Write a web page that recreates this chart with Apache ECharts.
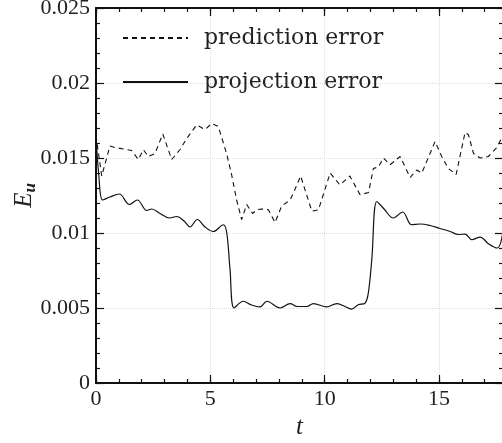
<!DOCTYPE html>
<html>
<head>
<meta charset="utf-8">
<script src="https://cdn.jsdelivr.net/npm/echarts@6/dist/echarts.min.js"></script>
<style>
html,body{margin:0;padding:0;background:#fff;}
#chart{width:502px;height:443px;}
</style>
</head>
<body>
<div id="chart"></div>
<script>
// ---- data ----
var seriesNames = ['prediction error', 'projection error'];
var xTicks = [0, 5, 10, 15];
var yTicks = [0, 0.005, 0.01, 0.015, 0.02, 0.025];

var predT = [0, 0.25, 0.61, 0.83, 1.2, 1.56, 1.85, 2.07, 2.29, 2.58, 2.92, 3.31, 3.67, 3.97, 4.4, 4.77, 5.06, 5.35, 5.71, 5.93, 6.15, 6.37, 6.59, 6.85, 7.03, 7.25, 7.54, 7.83, 8.12, 8.49, 8.7, 8.95, 9.44, 9.73, 10.24, 10.67, 11.1, 11.55, 11.92, 12.13, 12.35, 12.57, 12.86, 13.3, 13.74, 14.03, 14.25, 14.83, 15.12, 15.41, 15.75, 16.14, 16.29, 16.51, 16.8, 17.16, 17.53, 17.8];
var predV = [0.0165, 0.0138, 0.0158, 0.0157, 0.0156, 0.0155, 0.0149, 0.01555, 0.0151, 0.0153, 0.0166, 0.0149, 0.01555, 0.0163, 0.0172, 0.0169, 0.0173, 0.0171, 0.0153, 0.0139, 0.0122, 0.0109, 0.0119, 0.0113, 0.01155, 0.0116, 0.01155, 0.0107, 0.0118, 0.0122, 0.0129, 0.0138, 0.01145, 0.01155, 0.0140, 0.0132, 0.0138, 0.01255, 0.0127, 0.0143, 0.0144, 0.0150, 0.01455, 0.0151, 0.0137, 0.0142, 0.0140, 0.0161, 0.0151, 0.0143, 0.0139, 0.0167, 0.01655, 0.0153, 0.0150, 0.0151, 0.0157, 0.0165];

var projT = [0, 0.12, 0.29, 0.61, 1.02, 1.46, 1.81, 2.22, 2.44, 2.8, 3.21, 3.53, 3.85, 4.11, 4.43, 4.77, 5.13, 5.57, 5.72, 5.86, 6.04, 6.44, 6.8, 7.17, 7.47, 8.05, 8.49, 8.8, 9.22, 9.51, 10.09, 10.53, 10.82, 11.18, 11.47, 11.77, 11.91, 12.06, 12.28, 12.6, 13.0, 13.41, 13.8, 14.17, 14.61, 15.05, 15.49, 15.85, 16.14, 16.44, 16.8, 17.16, 17.55, 17.8];
var projV = [0.0165, 0.0139, 0.0122, 0.0124, 0.0126, 0.0119, 0.0122, 0.0115, 0.0116, 0.0113, 0.0110, 0.0111, 0.0108, 0.0104, 0.0109, 0.0104, 0.0101, 0.01055, 0.0100, 0.0076, 0.0050, 0.00545, 0.0052, 0.00507, 0.00545, 0.0050, 0.00529, 0.0051, 0.0051, 0.00529, 0.00507, 0.00529, 0.00515, 0.00493, 0.00522, 0.00533, 0.0060, 0.0082, 0.0121, 0.0116, 0.0110, 0.0114, 0.01055, 0.0106, 0.0105, 0.0103, 0.0101, 0.0099, 0.00993, 0.00955, 0.00973, 0.00929, 0.0090, 0.0101];

function zip(a, b) { return a.map(function (v, i) { return [v, b[i]]; }); }

var X_MAX = 17.8;
var serif = 'Liberation Serif';
var black = '#111';
var gridLine = { show: true, lineStyle: { color: '#dcdcdc', type: 'dotted', width: 1 } };

function xAxisDef(pos, major, withLabels) {
  return {
    type: 'value', position: pos, min: 0, max: X_MAX,
    interval: major ? 5 : 1,
    axisLine: { show: major, onZero: false, lineStyle: { color: black, width: 2 } },
    axisTick: { show: true, inside: true, length: major ? 8 : 4, lineStyle: { color: black, width: 1.2 } },
    axisLabel: {
      show: withLabels, margin: 5, showMaxLabel: false,
      fontFamily: serif, fontSize: 22, color: '#222',
      formatter: function (v) { return xTicks.indexOf(v) >= 0 ? String(v) : ''; }
    },
    splitLine: (major && withLabels) ? gridLine : { show: false },
    name: withLabels ? 't' : '',
    nameLocation: 'middle', nameGap: 28,
    nameTextStyle: { fontFamily: serif, fontStyle: 'italic', fontSize: 25, color: '#222' }
  };
}

function yAxisDef(pos, withLabels) {
  return {
    type: 'value', position: pos, min: 0, max: 0.025, interval: 0.005,
    axisLine: { show: true, onZero: false, lineStyle: { color: black, width: 2 } },
    axisTick: { show: true, inside: true, length: 8, lineStyle: { color: black, width: 1.2 } },
    minorTick: { show: true, splitNumber: 5, length: 4, lineStyle: { color: black, width: 1.2 } },
    axisLabel: {
      show: withLabels, margin: 6, fontFamily: serif, fontSize: 22, color: '#222',
      formatter: function (v) {
        for (var i = 0; i < yTicks.length; i++) {
          if (Math.abs(yTicks[i] - v) < 1e-9) return String(yTicks[i]);
        }
        return '';
      }
    },
    splitLine: withLabels ? gridLine : { show: false },
    name: withLabels ? '{e|E}{u|u}' : '',
    nameLocation: 'middle', nameGap: 57, nameRotate: 90, nameMoveOverlap: false,
    nameTextStyle: {
      color: '#222',
      rich: {
        e: { fontFamily: serif, fontStyle: 'italic', fontSize: 25, color: '#222', lineHeight: 30 },
        u: { fontFamily: serif, fontStyle: 'italic', fontWeight: 'bold', fontSize: 17, color: '#222', verticalAlign: 'bottom', lineHeight: 30 }
      }
    }
  };
}

var chart = echarts.init(document.getElementById('chart'), null, { renderer: 'canvas' });
chart.setOption({
  animation: false,
  backgroundColor: '#fff',
  grid: { left: 96, right: -1, top: 8, bottom: 60, containLabel: false, outerBoundsMode: 'none' },
  legend: {
    orient: 'vertical', left: 122, top: 27, padding: 0,
    itemWidth: 65, itemHeight: 22, itemGap: 22,
    selectedMode: false,
    itemStyle: { opacity: 0, color: 'rgba(0,0,0,0)', borderWidth: 0 },
    textStyle: { fontFamily: 'DejaVu Serif', fontSize: 22, color: '#222', lineHeight: 22, padding: [0, 0, 0, 11] },
    data: seriesNames
  },
  xAxis: [
    xAxisDef('bottom', true, true),
    xAxisDef('bottom', false, false),
    xAxisDef('top', true, false),
    xAxisDef('top', false, false)
  ],
  yAxis: [yAxisDef('left', true), yAxisDef('right', false)],
  series: [
    {
      name: seriesNames[0], type: 'line', xAxisIndex: 0, yAxisIndex: 0,
      symbol: 'none', smooth: false,
      lineStyle: { color: black, width: 1.1, type: [5, 4] },
      itemStyle: { color: black },
      data: zip(predT, predV)
    },
    {
      name: seriesNames[1], type: 'line', xAxisIndex: 0, yAxisIndex: 0,
      symbol: 'none', smooth: 0.35,
      lineStyle: { color: black, width: 1.2, type: 'solid' },
      itemStyle: { color: black },
      data: zip(projT, projV)
    }
  ]
});
</script>
</body>
</html>
